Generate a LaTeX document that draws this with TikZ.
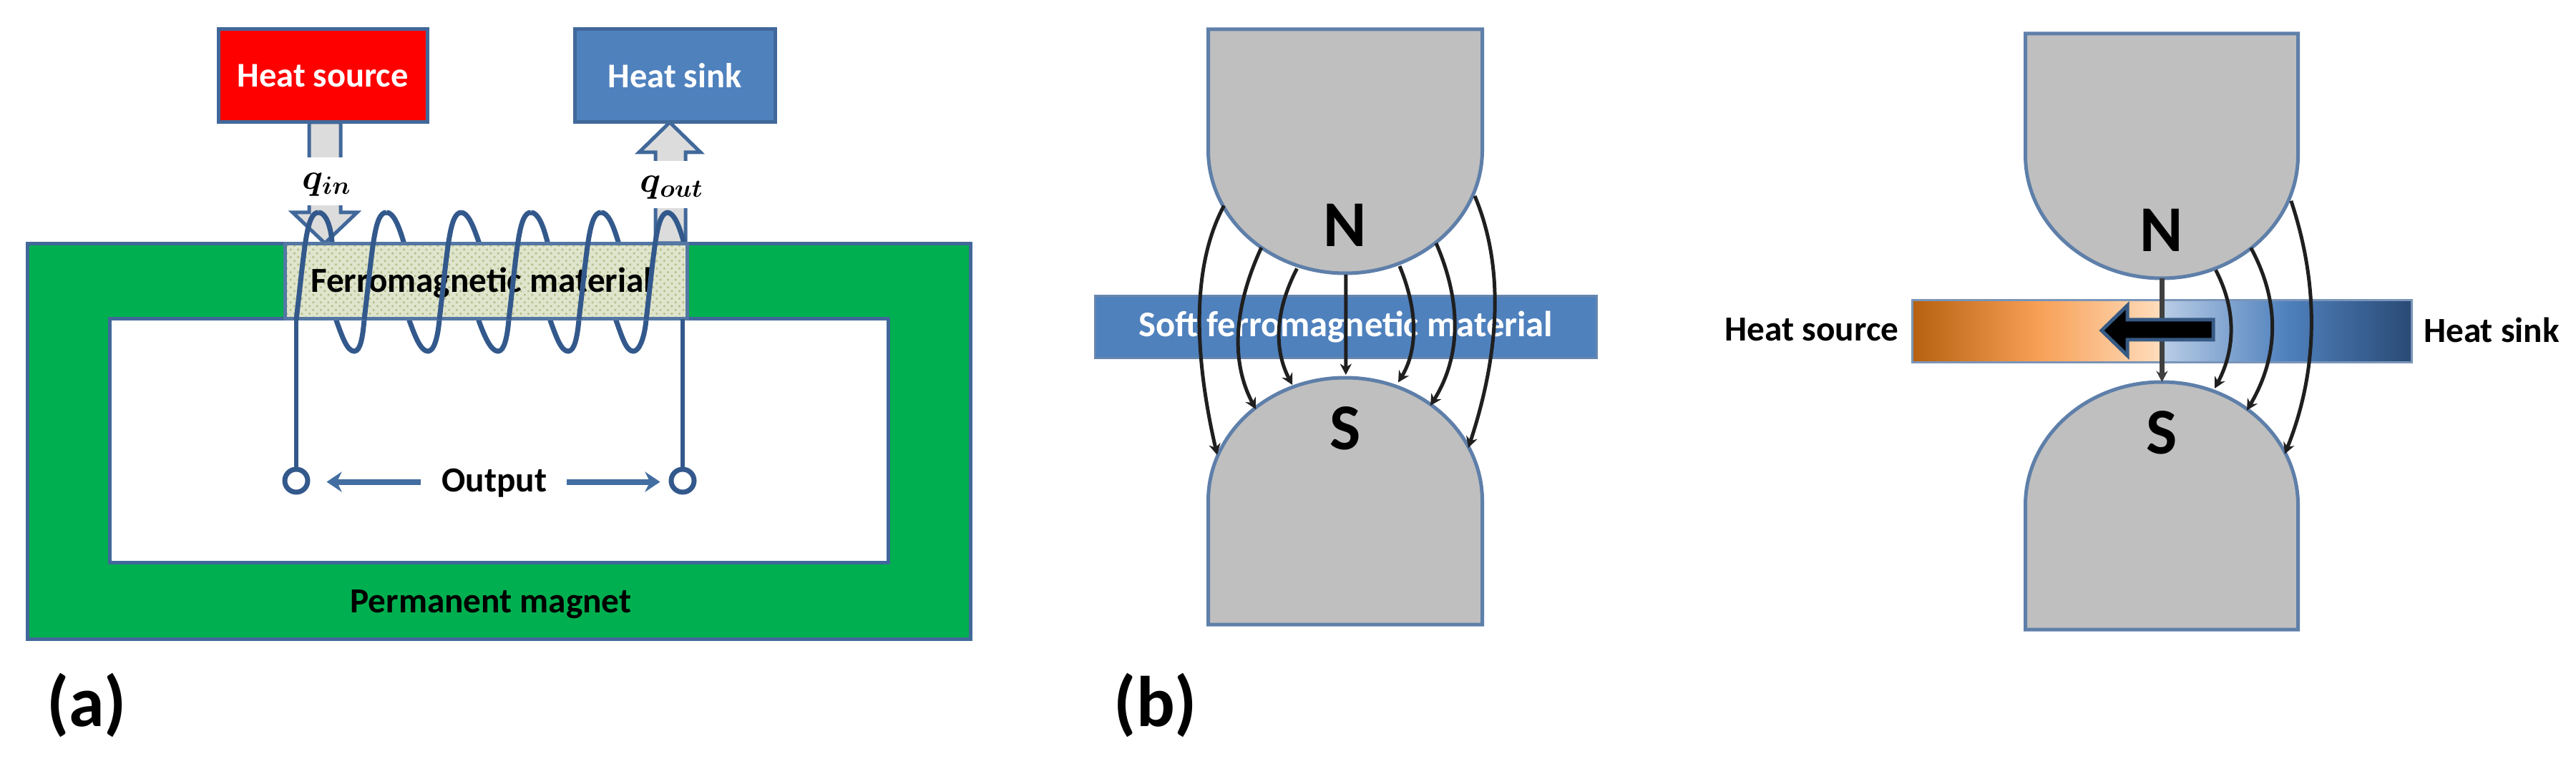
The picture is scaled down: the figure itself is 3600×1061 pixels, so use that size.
\documentclass[tikz,border=0pt]{standalone}
\usepackage{fontspec}
\setmainfont{Carlito}
\usetikzlibrary{arrows.meta,calc,patterns}
\definecolor{edge}{HTML}{41689A}
\definecolor{wire}{HTML}{33598C}
\definecolor{barblue}{HTML}{4F81BD}
\definecolor{magnetgreen}{HTML}{00B050}
\definecolor{polegray}{HTML}{BFBFBF}
\definecolor{arrowgray}{HTML}{DCDCDC}
\definecolor{hotdark}{HTML}{B56010}
\definecolor{hotmid}{HTML}{F79F55}
\definecolor{hotlight}{HTML}{FFDDBD}
\definecolor{coldlight}{HTML}{BACDE6}
\definecolor{colddark}{HTML}{2A4A75}
\definecolor{corefill}{HTML}{DFE5CC}
\definecolor{coredots}{HTML}{B4BE8C}
\def\u{0.01cm}
\newcommand{\fsz}[1]{\fontsize{#1}{#1}\selectfont\bfseries}
\tikzset{
  x=\u, y=-\u,
  label44/.style={inner sep=0pt, font=\fsz{14}},
  pole/.style={inner sep=0pt, font=\fsz{26}},
  panel/.style={inner sep=0pt, font=\fsz{28.5}},
  outl/.style={draw=edge, line width=5*\u},
  blockarrow/.style={outl, fill=arrowgray, line join=miter},
  coil/.style={draw=wire, line width=7*\u},
  field/.style={draw=black!88, line width=5*\u, -{Stealth[length=4.4pt,width=4.6pt]}},
  output/.style={draw=barblue!85!black, line width=8*\u, -{Stealth[length=6pt,width=8pt]}},
  poleshape/.style={draw=edge!85, line width=5*\u, fill=polegray},
}
\begin{document}
\begin{tikzpicture}
\useasboundingbox (0,0) rectangle (3600,1061);

% (a) magnet frame
\draw[outl, fill=magnetgreen] (38,341) rectangle (1356,893);
\draw[outl, fill=white] (153,446) rectangle (1241,786);

% heat boxes
\node[outl, fill=red, text=white, font=\fsz{13.8}, inner sep=0pt, minimum width=292*\u, minimum height=130*\u] (src) at (451,106) {Heat source};
\node[outl, fill=barblue, text=white, font=\fsz{13.8}, inner sep=0pt, minimum width=280*\u, minimum height=130*\u] (snk) at (943,106) {Heat sink};

% block arrows, interrupted by the q labels
\coordinate (qa) at (454,171);
\coordinate (qb) at (454,340);
\coordinate (qc) at (936,171);
\coordinate (qd) at (936,340);
\draw[blockarrow] ($(qa)+(-22,0)$) -- ($(qa)+(22,0)$) -- ($(qa)+(22,126)$) -- ($(qa)+(45,126)$) -- (qb) -- ($(qa)+(-45,126)$) -- ($(qa)+(-22,126)$) -- cycle;
\draw[blockarrow] (qc) -- ($(qc)+(43,42)$) -- ($(qc)+(22,42)$) -- ($(qd)+(22,0)$) -- ($(qd)+(-20,0)$) -- ($(qc)+(-20,42)$) -- ($(qc)+(-43,42)$) -- cycle;
\node[fill=white, inner sep=0pt, minimum width=76*\u, minimum height=67*\u] (qin) at (456,254) {};
\node[fill=white, inner sep=0pt, minimum width=86*\u, minimum height=66*\u] (qout) at (938,258) {};
\node[inner sep=0pt, font=\fsz{14.5}\boldmath] at (457,258) {$q_{in}$};
\node[inner sep=0pt, font=\fsz{14.5}\boldmath] at (939,262) {$q_{out}$};

% coil, rear part
\foreach \a/\d/\en/\lo/\ex in {445/464/470/495/509,540/564/572/598/614,644/669/669/696/711,742/765/769/794/809,840/864/861/885/903}{
  \draw[coil] (\a,297) .. controls (\a+10,297) and (\a+17,315) .. (\d,338) -- (\en,448)
    .. controls (\en+8,470) and (\lo-10,491) .. (\lo,491)
    .. controls (\lo+9,491) and (\ex-2,470) .. (\ex,447);
}
\draw[coil] (932,297) .. controls (942,297) and (949,315) .. (956,340);

% ferromagnetic core
\node[draw=edge!90, line width=5*\u, preaction={fill=corefill}, pattern=crosshatch dots, pattern color=coredots, inner sep=0pt, minimum width=562*\u, minimum height=105*\u] (core) at (679,393.5) {};
\node[label44] at (673,395) {Ferromagnetic material};

% coil, front part
\foreach \b in {414,509,614,711,809,903}{
  \draw[coil] (\b,447) .. controls (\b+12,345) and (\b+14,297) .. (\b+31,297);
}

% output terminals
\node[draw=wire, line width=7*\u, circle, inner sep=0pt, minimum size=32*\u] (t1) at (414,672) {};
\node[draw=wire, line width=7*\u, circle, inner sep=0pt, minimum size=32*\u] (t2) at (954,672) {};
\coordinate (w1) at (414,446);
\coordinate (w2) at (954,446);
\draw[coil, line width=6*\u] (w1) -- (t1);
\draw[coil, line width=6*\u] (w2) -- (t2);
\node[label44] (out) at (691,675) {Output};
\coordinate (oa) at ([xshift=-29*\u,yshift=0.4pt]out.west);
\coordinate (ob) at ([xshift=27*\u,yshift=0.4pt]out.east);
\draw[output] (oa) -- ([xshift=23*\u]oa -| t1.east);
\draw[output] (ob) -- ([xshift=-12*\u]ob -| t2.west);

\node[label44] at (686,845) {Permanent magnet};
\node[panel] at (121,986) {(a)};
\node[panel] at (1615,986) {(b)};

% (b) pole pieces, left and right
\foreach \cx/\rx/\t/\bb/\tt/\bot in {1880/191.5/41/382/528/873,3021/190.5/47/389/534/880}{
  \pgfmathsetmacro\ky{172*0.5523}
  \pgfmathsetmacro\kx{\rx*0.5523}
  \draw[poleshape] (\cx-\rx,\t) -- (\cx+\rx,\t) -- (\cx+\rx,\bb-172)
    .. controls (\cx+\rx,\bb-172+\ky) and (\cx+\kx,\bb) .. (\cx,\bb)
    .. controls (\cx-\kx,\bb) and (\cx-\rx,\bb-172+\ky) .. (\cx-\rx,\bb-172) -- cycle;
  \draw[poleshape] (\cx-\rx,\bot) -- (\cx+\rx,\bot) -- (\cx+\rx,\tt+172)
    .. controls (\cx+\rx,\tt+172-\ky) and (\cx+\kx,\tt) .. (\cx,\tt)
    .. controls (\cx-\kx,\tt) and (\cx-\rx,\tt+172-\ky) .. (\cx-\rx,\tt+172) -- cycle;
}
\node[pole] at (1880,315) {N};
\node[pole] at (1880,599) {S};
\node[pole] at (3021,322) {N};
\node[pole] at (3021,605) {S};

% soft ferromagnetic bar
\node[draw=edge!80, line width=3*\u, fill=barblue, text=white, inner sep=0pt, minimum width=701*\u, minimum height=87*\u, font=\fsz{14.4}] (soft) at (1881,457) {Soft ferromagnetic material};

% gradient bar
\shade[left color=hotdark, right color=hotlight, middle color=hotmid] (2672,420) rectangle (3021,506);
\shade[left color=coldlight, right color=colddark, middle color=barblue] (3021,420) rectangle (3370,506);
\draw[draw=edge!70, line width=3*\u] (2672,420) rectangle (3370,506);
\node[label44] (hsrc) at (2532,461) {Heat source};
\node[label44] (hsnk) at (3482,461) {Heat sink};

% field lines: start, middle, end (quadratic through the middle point)
\foreach \n/\sx/\sy/\mx/\my/\ex/\ey in {
  a/1710.5/287.5/1676.7/433/1701/636,
  b/1762.8/346/1731/467/1755/572,
  c/1812.5/375.5/1788/460/1806/538,
  d/1880.8/384/1880.8/454/1880.8/524,
  e/1956/372/1975/460/1954/534.5,
  f/2007/340/2032.5/460/1999/567,
  g/2061/274/2088.7/433/2052/626,
  h/3096.5/377.5/3117.5/460/3095/543,
  i/3145.6/346.4/3175/460/3140/573.7,
  j/3201.8/280.8/3229.8/460/3193/634.6}{
  \pgfmathsetmacro\qx{\mx+(\mx-\sx)/2+(\mx-\ex)/2}
  \pgfmathsetmacro\qy{\my+(\my-\sy)/2+(\my-\ey)/2}
  \coordinate (\n s) at (\sx,\sy);
  \coordinate (\n e) at (\ex,\ey);
  \coordinate (\n p) at ($(\n s)!0.667!(\qx,\qy)$);
  \coordinate (\n q) at ($(\n e)!0.667!(\qx,\qy)$);
  \draw[field] (\n s) .. controls (\n p) and (\n q) .. (\n e);
}
\coordinate (ks) at (3021.4,389);
\coordinate (ke) at (3021.4,534);
\draw[field, line width=6.5*\u, draw=black!75] (ks) -- (ke);

% heat flow arrow
\draw[draw=barblue!70!black, line width=5*\u, fill=black] (3093,447) -- (2973,447) -- (2973,427) -- (2937,462) -- (2973,497) -- (2973,475) -- (3093,475) -- cycle;
\end{tikzpicture}
\end{document}
